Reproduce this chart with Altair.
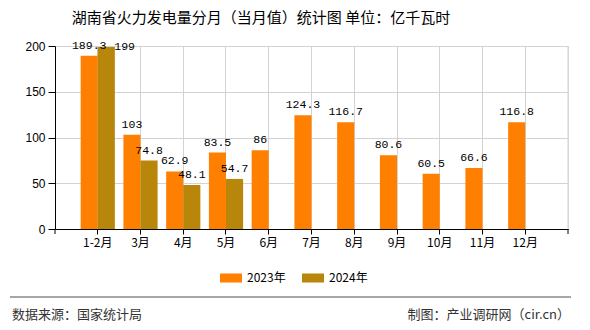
import altair as alt
import pandas as pd

months = ["1-2月", "3月", "4月", "5月", "6月", "7月", "8月", "9月", "10月", "11月", "12月"]
v2023 = [189.3, 103, 62.9, 83.5, 86, 124.3, 116.7, 80.6, 60.5, 66.6, 116.8]
v2024 = [199, 74.8, 48.1, 54.7]
years = ["2023年", "2024年"]
colors = ["#FF8000", "#B8860B"]
y_ticks = [0, 50, 100, 150, 200]
title_text = "湖南省火力发电量分月（当月值）统计图 单位：亿千瓦时"
source_text = "数据来源：国家统计局"
credit_text = "制图：产业调研网（cir.cn）"

FONT = "Noto Sans CJK SC"
W, H = 513, 183
Y_MAX = 200

rows = []
for m, v in zip(months, v2023):
    rows.append({"month": m, "year": years[0], "value": v, "label": f"{v:g}"})
for m, v in zip(months, v2024):
    rows.append({"month": m, "year": years[1], "value": v, "label": f"{v:g}"})
df = pd.DataFrame(rows)

x_enc = alt.X(
    "month:N", sort=months,
    scale=alt.Scale(paddingInner=0.2, paddingOuter=0.6),
    axis=alt.Axis(title=None, labelAngle=0, bandPosition=0.5, grid=True,
                  gridColor="#d3d3d3", domainColor="black", tickColor="black",
                  tickSize=5, labelFontSize=12, labelColor="black", labelPadding=3,
                  labelFont=FONT),
)
xoff = alt.XOffset("year:N", sort=years, scale=alt.Scale(paddingInner=0, paddingOuter=0))
y_enc = alt.Y(
    "value:Q",
    scale=alt.Scale(domain=[0, Y_MAX], nice=False),
    axis=alt.Axis(values=y_ticks, title=None, grid=True, gridColor="#d3d3d3",
                  domainColor="black", tickColor="black", tickSize=7,
                  labelFontSize=12, labelColor="black", labelPadding=3,
                  labelFont="Liberation Sans"),
)

bars = alt.Chart(df).mark_bar().encode(
    x=x_enc, xOffset=xoff, y=y_enc,
    color=alt.Color(
        "year:N", sort=years,
        scale=alt.Scale(domain=years, range=colors),
        legend=alt.Legend(title=None, orient="none", legendX=165, legendY=221,
                          direction="horizontal", symbolType="M-1,-0.41H1V0.41H-1Z",
                          symbolSize=484, labelFontSize=12, labelOffset=5,
                          columnPadding=16, symbolStrokeWidth=0, labelFont=FONT,
                          labelColor="black"),
    ),
)

labels = alt.Chart(df).transform_filter(alt.datum.value < Y_MAX - 5).mark_text(
    baseline="bottom", dy=-5, fontSize=11.5, font="Liberation Mono", color="black"
).encode(x=x_enc, xOffset=xoff, y=y_enc, text="label:N")

labels_top = alt.Chart(df).transform_filter(alt.datum.value >= Y_MAX - 5).mark_text(
    baseline="middle", align="left", dx=8, fontSize=11.5, font="Liberation Mono", color="black"
).encode(x=x_enc, xOffset=xoff, y=y_enc, text="label:N")

one = pd.DataFrame({"t": [title_text]})
title = alt.Chart(one).mark_text(fontSize=15, font=FONT, color="black",
                                 align="center", baseline="middle").encode(
    x=alt.value(206), y=alt.value(-28), text="t:N")

src = alt.Chart(pd.DataFrame({"t": [source_text]})).mark_text(
    fontSize=13, font=FONT, color="#333333", align="left", baseline="middle").encode(
    x=alt.value(-43), y=alt.value(269), text="t:N")
cred = alt.Chart(pd.DataFrame({"t": [credit_text]})).mark_text(
    fontSize=13, font=FONT, color="#333333", align="right", baseline="middle").encode(
    x=alt.value(515), y=alt.value(269), text="t:N")

footer_line = alt.Chart(one).mark_rule(color="#888888", strokeWidth=1.5).encode(
    x=alt.value(-45), x2=alt.value(516), y=alt.value(251))
right_grid = alt.Chart(one).mark_rule(color="#d3d3d3").encode(
    x=alt.value(W), y=alt.value(0), y2=alt.value(H))
tick_l = alt.Chart(one).mark_rule(color="black").encode(
    x=alt.value(0), y=alt.value(H), y2=alt.value(H + 5))
tick_r = alt.Chart(one).mark_rule(color="black").encode(
    x=alt.value(W), y=alt.value(H), y2=alt.value(H + 5))

chart = alt.layer(right_grid, bars, labels, labels_top, tick_l, tick_r, title,
                  footer_line, src, cred).properties(
    width=W, height=H,
    autosize=alt.AutoSizeParams(type="none"),
    padding={"left": 55, "top": 46, "right": 22, "bottom": 101},
).configure_view(stroke=None).configure(background="white")

chart.save("out.html", embed_options={"renderer": "svg", "actions": False})
